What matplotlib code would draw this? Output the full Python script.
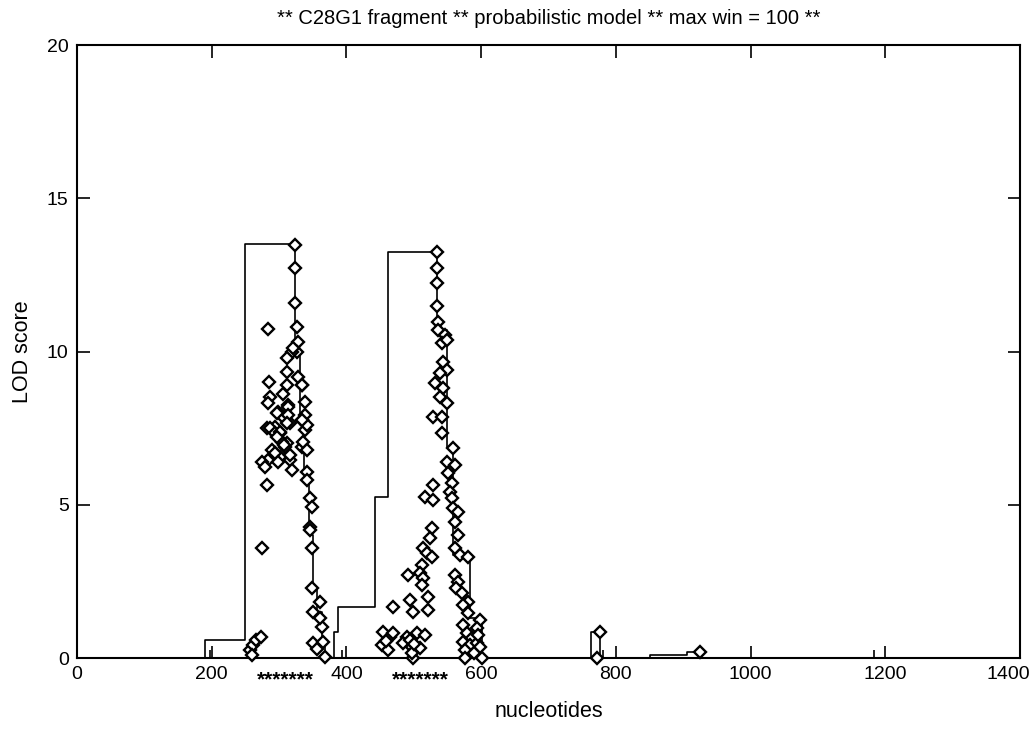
import matplotlib
matplotlib.use('Agg')
import matplotlib.pyplot as plt
import matplotlib.transforms as mtransforms

plt.rcParams['font.family'] = ['Liberation Sans', 'DejaVu Sans']

# max LOD envelope (step, value holds from x onwards)
env_x = [0, 190, 249, 324, 331, 337, 344, 350, 357, 363, 368,
         381, 387, 442, 462, 534, 549, 558, 583, 601,
         763, 776, 850, 905, 925, 1400]
env_y = [0, 0.59, 13.5, 10.0, 7.9, 6.1, 4.0, 2.3, 1.5, 0.6, 0,
         0.85, 1.66, 5.25, 13.25, 10.7, 6.9, 3.35, 1.3, 0,
         0.85, 0, 0.1, 0.2, 0, 0]

# tiny spikes on the baseline
spike_x = [197, 393, 781, 1183]
spike_h = [0.26, 0.26, 0.26, 0.26]

# window scores (diamonds)
pts_x = [
    # first peak, right edge
    323.6, 323.6, 323.6, 326.6, 328.1, 326.6, 328.1, 334.0, 338.5, 334.0,
    338.5, 334.0, 338.5, 341.5, 335.5, 341.5, 341.5, 341.5, 345.9, 348.9,
    345.9, 345.9, 348.9, 348.9, 360.7, 350.4, 363.7, 350.4, 365.2, 368.2,
    357.0, 361.0,
    # first peak, scatter
    319.2, 311.8, 311.8, 285.0, 311.8, 334.0, 286.5, 313.2, 298.4, 305.8,
    316.2, 334.0, 282.1, 293.9, 301.4, 311.8, 289.5, 301.4, 316.2, 283.6,
    283.6, 313.2, 296.9, 313.2, 311.8, 286.5, 293.9, 301.4, 304.3, 308.8,
    316.2, 293.9, 283.6, 274.6, 279.1, 298.4, 319.2, 282.1, 274.6, 320.7,
    305.8, 297.0, 308.0,
    256.8, 261.3, 265.7, 273.2, 259.8,
    # second peak, right edge
    534.4, 534.4, 534.4, 534.4, 535.9, 535.9, 546.3, 541.9, 549.3, 543.3,
    549.3, 538.9, 531.5, 543.3, 538.9, 549.3, 528.5, 541.9, 541.9, 558.2,
    549.3, 561.2, 550.8, 556.7, 553.7, 556.7, 558.2, 565.6, 561.2, 565.6,
    561.2, 568.6, 580.5, 561.2, 565.6, 562.6, 571.6, 580.5, 573.0, 580.5,
    598.3, 573.0, 593.8, 579.0, 586.4, 573.0, 583.4, 593.8, 576.0, 598.3,
    576.0, 601.2, 589.0, 596.0,
    # second peak, scatter
    528.5, 516.6, 528.5, 527.0, 524.0, 513.7, 519.6, 527.0, 512.2, 491.4,
    509.2, 513.7, 512.2, 521.1, 494.4, 498.8, 521.1, 469.1, 454.3, 464.7,
    469.1, 452.8, 461.7, 489.9, 504.8, 484.0, 497.3, 509.2, 498.8, 497.3,
    459.0, 494.0, 501.0, 516.0,
    # tail
    776.4, 772.0, 924.9,
]
pts_y = [
    13.47, 12.72, 11.58, 10.80, 10.31, 9.98, 9.17, 8.91, 8.35, 7.77,
    7.44, 6.88, 7.93, 7.60, 7.05, 6.79, 6.07, 5.81, 5.22, 4.93,
    4.27, 4.18, 3.59, 2.28, 1.83, 1.50, 1.01, 0.49, 0.52, 0.03,
    0.30, 1.30,
    9.98, 9.79, 9.33, 9.00, 8.91, 8.91, 8.52, 8.25, 8.03, 7.86,
    7.67, 7.77, 7.50, 7.54, 7.34, 7.01, 6.79, 6.56, 6.46, 10.73,
    8.32, 8.19, 7.99, 7.93, 7.67, 7.50, 7.34, 7.37, 7.05, 6.88,
    6.62, 6.69, 6.46, 6.39, 6.23, 6.39, 6.13, 5.64, 3.59, 10.10,
    8.60, 7.20, 6.95,
    0.26, 0.42, 0.59, 0.69, 0.10,
    13.25, 12.72, 12.23, 11.50, 10.96, 10.70, 10.54, 10.28, 10.38, 9.65,
    9.40, 9.30, 8.97, 8.81, 8.52, 8.32, 7.86, 7.86, 7.34, 6.85,
    6.39, 6.30, 6.04, 5.71, 5.42, 5.22, 4.89, 4.76, 4.44, 4.01,
    3.59, 3.36, 3.30, 2.71, 2.48, 2.28, 2.12, 1.83, 1.73, 1.47,
    1.24, 1.08, 0.98, 0.82, 0.65, 0.52, 0.42, 0.49, 0.26, 0.36,
    0.0, 0.0, 0.15, 0.75,
    5.64, 5.25, 5.15, 4.24, 3.92, 3.59, 3.43, 3.30, 3.03, 2.71,
    2.77, 2.61, 2.38, 1.99, 1.89, 1.50, 1.57, 1.66, 0.85, 0.69,
    0.82, 0.42, 0.26, 0.69, 0.82, 0.49, 0.36, 0.33, 0.0, 0.16,
    0.55, 0.60, 0.45, 0.75,
    0.85, 0.0, 0.20,
]

# annotated motif regions (under the axis)
motif_x = [310, 509]

fig = plt.figure(figsize=(10.31, 7.39), dpi=100)
ax = fig.add_axes([0.0747, 0.1096, 0.9146, 0.8295])

ax.step(env_x, env_y, where='post', color='black', linewidth=1.2, zorder=2)
ax.vlines(spike_x, 0, spike_h, color='black', linewidth=1.2, zorder=2)
ax.plot(pts_x, pts_y, linestyle='none', marker='D', markersize=6,
        markerfacecolor='white', markeredgecolor='black',
        markeredgewidth=1.7, zorder=3, clip_on=False)

ax.set_xlim(0, 1400)
ax.set_ylim(0, 20)
ax.set_xticks(range(0, 1401, 200))
ax.set_yticks(range(0, 21, 5))
ax.tick_params(direction='in', length=9, width=1.2, top=True, right=True,
               labelsize=14, pad=6)
for s in ax.spines.values():
    s.set_linewidth(1.5)

# keep the last x label inside the figure
last = ax.get_xticklabels()[-1]
last.set_transform(last.get_transform() +
                   mtransforms.ScaledTranslation(-12 / 100, 0, fig.dpi_scale_trans))

ax.set_title('** C28G1 fragment ** probabilistic model ** max win = 100 **',
             fontsize=14.5, pad=15)
ax.set_ylabel('LOD score', fontsize=15.5, labelpad=10)
ax.set_xlabel('nucleotides', fontsize=15.5, labelpad=13)

trans = mtransforms.blended_transform_factory(ax.transData, ax.transAxes)
for mx in motif_x:
    ax.text(mx, -0.036, '*******', transform=trans, ha='center', va='center',
            fontsize=15, fontweight='bold')

fig.savefig('out.png', dpi=100)
